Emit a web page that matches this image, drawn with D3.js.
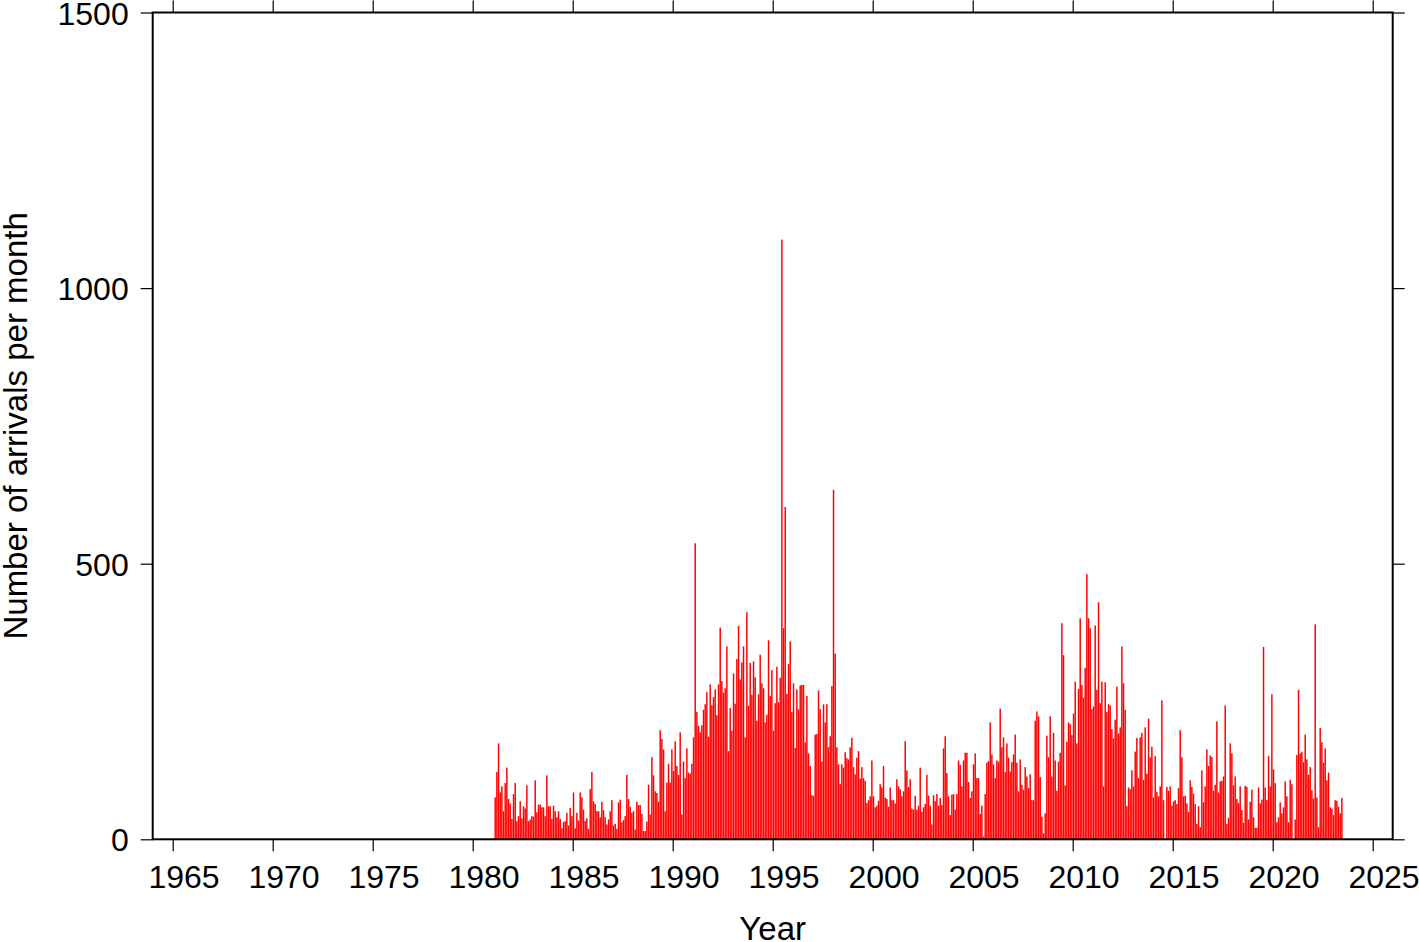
<!DOCTYPE html>
<html>
<head>
<meta charset="utf-8">
<script src="https://cdn.jsdelivr.net/npm/d3@7"></script>
<style>
  html, body { margin: 0; padding: 0; background: #fff; }
  svg { display: block; }
  text { font-family: "Liberation Sans", Arial, Helvetica, sans-serif; fill: #000; }
</style>
</head>
<body>
<svg id="chart" width="1419" height="942"></svg>
<script>
// ---- Data: monthly arrival counts, one array per 5-year block ----
const xTickYears = [1965, 1970, 1975, 1980, 1985, 1990, 1995, 2000, 2005, 2010, 2015, 2020, 2025];
const yTickValues = [0, 500, 1000, 1500];
const xLabel = "Year";
const yLabel = "Number of arrivals per month";

// Feb 1981 - Dec 1984
const counts1981 = [76,122,174,85,96,51,102,130,73,65,37,82,102,33,42,69,38,60,56,98,33,36,42,41,107,49,63,63,58,58,42,116,60,60,37,61,51,40,51,37,20,31,33,48,25,57,42];
// Jan 1985 - Dec 1989
const counts1985 = [85,20,48,34,85,76,54,33,38,19,91,122,69,64,51,51,
  40,68,53,40,27,36,51,71,25,28,19,67,72,31,35,42,117,73,59,48,51,18,68,62,62,46,15,15,32,99,45,149,116,87,84,68,198,182,163,51,103,137,103,163];
// Jan 1990 - Dec 1994
const counts1990 = [124,178,133,117,194,45,141,111,165,121,119,137,185,537,231,206,194,207,235,245,
  267,186,281,243,258,272,225,281,384,287,266,274,350,160,238,197,301,246,327,387,290,321,350,185,412,242,320,262,323,294,215,263,335,283,274,212,226,361,260,307];
// Jan 1995 - Dec 1999
const counts1995 = [197,247,313,249,293,1088,383,603,264,318,359,231,283,166,272,236,279,280,280,176,260,156,133,80,79,190,
  191,270,236,141,245,212,245,167,187,278,634,337,167,136,100,136,130,158,147,145,167,184,131,118,148,160,110,131,111,106,66,71,78,143];
// Jan 2000 - Dec 2004
const counts2000 = [78,58,61,70,100,94,133,76,73,59,94,71,71,65,109,96,91,78,87,178,125,95,109,56,54,79,54,61,130,50,
  58,64,117,79,61,27,80,69,82,61,75,62,165,187,120,78,44,81,82,54,82,143,135,96,143,157,157,104,75,87];
// Jan 2005 - Dec 2009
const counts2005 = [136,156,111,111,46,61,5,82,139,142,212,154,136,111,143,141,237,167,185,122,174,148,123,140,154,190,139,87,145,99,90,131,114,93,118,71,
  71,215,232,223,113,41,11,47,188,149,223,114,193,143,88,141,157,392,334,98,177,212,209,189];
// Jan 2010 - Dec 2014
const counts2010 = [228,286,174,273,401,280,257,311,481,401,383,236,241,388,271,430,247,286,96,285,231,245,243,200,183,217,277,192,203,350,283,235,60,94,91,125,96,159,184,111,
  185,193,108,203,119,219,149,168,76,151,86,78,96,252,71,0,95,88,96,61];
// Jan 2015 - Dec 2019
const counts2015 = [69,71,64,93,198,149,78,79,65,50,107,95,83,64,28,60,22,125,67,96,163,133,152,149,88,99,214,85,105,106,114,243,28,39,174,156,98,114,73,66,96,53,30,97,95,
  36,68,90,40,21,21,94,65,72,349,94,71,151,96,263];
// Jan 2020 - Jun 2023
const counts2020 = [127,102,31,40,67,47,58,105,78,31,108,100,0,36,153,271,156,159,140,190,145,117,131,89,74,390,76,22,202,176,139,165,107,121,58,56,44,71,70,59,47,75];

const blockStarts = [1981 + 1/12, 1985, 1990, 1995, 2000, 2005, 2010, 2015, 2020];
const blockCounts = [counts1981, counts1985, counts1990, counts1995, counts2000, counts2005, counts2010, counts2015, counts2020];

const monthly = [];
blockCounts.forEach((arr, b) => {
  arr.forEach((v, i) => monthly.push({ t: blockStarts[b] + i / 12, v: v }));
});

// ---- Layout ----
const svg = d3.select("#chart");
const mLeft = 152.7, mRight = 1392.7, mTop = 12.5, mBottom = 839.3;

const x = d3.scaleLinear().domain([1964, 2026]).range([mLeft, mRight]);
const y = d3.scaleLinear().domain([0, 1500]).range([mBottom, mTop]);

// Bars
const monthW = x(1964 + 1/12) - x(1964);
svg.append("g")
  .selectAll("rect")
  .data(monthly)
  .join("rect")
  .attr("x", d => x(d.t) + 0.1)
  .attr("width", monthW - 0.2)
  .attr("y", d => y(d.v))
  .attr("height", d => Math.max(0, y(0) - y(d.v)))
  .attr("fill", "#ff0000");

// Axes (ticks only; frame drawn separately)
function styleAxis(g) {
  g.select(".domain").remove();
  g.selectAll(".tick line").attr("stroke", "#000").attr("stroke-width", 1.2);
}

const xb = svg.append("g").attr("transform", `translate(0,${mBottom})`)
  .call(d3.axisBottom(x).tickValues(xTickYears).tickSize(12).tickFormat(d3.format("d")));
styleAxis(xb);
xb.selectAll(".tick text").attr("x", 10.8).attr("y", 888 - mBottom).attr("dy", 0)
  .style("font-size", "32px").attr("font-family", null);

const xt = svg.append("g").attr("transform", `translate(0,${mTop})`)
  .call(d3.axisTop(x).tickValues(xTickYears).tickSize(12).tickFormat(""));
styleAxis(xt);

const yl = svg.append("g").attr("transform", `translate(${mLeft},0)`)
  .call(d3.axisLeft(y).tickValues(yTickValues).tickSize(12).tickPadding(12).tickFormat(d3.format("d")));
styleAxis(yl);
yl.selectAll(".tick text").attr("dy", "0.36em").style("font-size", "32px").attr("font-family", null);

const yr = svg.append("g").attr("transform", `translate(${mRight},0)`)
  .call(d3.axisRight(y).tickValues(yTickValues).tickSize(12).tickFormat(""));
styleAxis(yr);

// Frame
svg.append("rect")
  .attr("x", mLeft).attr("y", mTop)
  .attr("width", mRight - mLeft).attr("height", mBottom - mTop)
  .attr("fill", "none").attr("stroke", "#000").attr("stroke-width", 2);

// Axis labels
svg.append("text")
  .attr("x", (mLeft + mRight) / 2).attr("y", 940)
  .attr("text-anchor", "middle")
  .style("font-size", "33px")
  .text(xLabel);

svg.append("text")
  .attr("transform", `translate(27,${(mTop + mBottom) / 2}) rotate(-90)`)
  .attr("text-anchor", "middle")
  .style("font-size", "33px")
  .text(yLabel);
</script>
</body>
</html>
